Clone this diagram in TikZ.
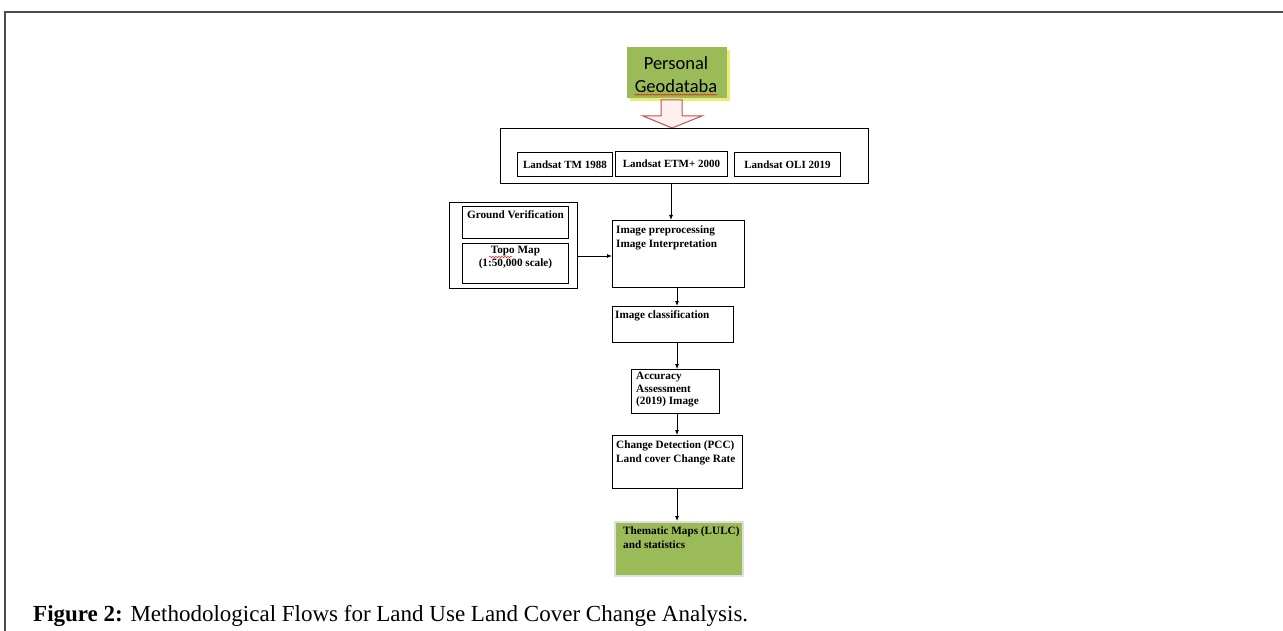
\documentclass[tikz,border=0pt]{standalone}
\usepackage{fontspec}
\setmainfont{Liberation Serif}
\newfontfamily\calibri{Carlito}
\usetikzlibrary{positioning,arrows.meta,shadows,decorations.pathmorphing}

\definecolor{boxgreen}{HTML}{9BBB59}
\definecolor{shadowyellow}{HTML}{EDEB72}
\definecolor{hollowred}{HTML}{C0504D}

\tikzset{
  box/.style={draw, line width=0.9pt, inner sep=0pt, anchor=north west,
    font=\fontsize{11}{13}\selectfont\bfseries},
  boxtext/.style={anchor=north west, inner sep=0pt, align=left,
    font=\fontsize{11.2}{14}\selectfont\bfseries},
  flow/.style={-{Latex[length=5pt,width=4pt]}, line width=0.8pt},
  spell/.style={red, line width=0.5pt, decorate,
    decoration={snake, amplitude=0.6pt, segment length=3pt}},
}

\begin{document}
\begin{tikzpicture}[x=1pt, y=-1pt]
    \useasboundingbox (0,0) rectangle (1283,631);

    % Frame of the figure
    \draw[gray!60!black, line width=1.5pt] (5,631) -- (5,12) -- (1283,12);

    % Source database
    \node[box, draw=none, fill=boxgreen, minimum width=100, minimum height=51,
      drop shadow={shadow xshift=3pt, shadow yshift=-3pt, fill=shadowyellow, opacity=1}]
      (geodb) at (627,47) {};
    \node[font=\calibri\fontsize{18.5}{22}\selectfont, inner sep=0pt] (personal) at (676,63) {Personal};
    \node[font=\calibri\fontsize{18.5}{22}\selectfont, inner sep=0pt] (geodata) at (676,86) {Geodataba};
    \draw[spell] ([yshift=-2pt]geodata.south west) -- ([yshift=-2pt]geodata.south east);

    % Hollow arrow into the imagery
    \draw[hollowred, line width=1pt, fill=red!6]
      (661,100) -- (682,100) -- (682,116) -- (702,116) -- (672,128)
      -- (643,116) -- (661,116) -- cycle;

    % Landsat imagery
    \node[box, minimum width=368, minimum height=55] (landsat) at (500,128) {};
    \node[box, minimum width=95, minimum height=24] (tm) at (517,152) {Landsat TM 1988};
    \node[box, minimum width=112, minimum height=25] (etm) at (615,151) {Landsat ETM+ 2000};
    \node[box, minimum width=106, minimum height=24] (oli) at (734,152) {Landsat OLI 2019};

    % Reference data
    \node[box, minimum width=128, minimum height=86] (refdata) at (449,202) {};
    \node[box, minimum width=106, minimum height=32] (ground) at (462,206) {};
    \node[boxtext, anchor=north] (groundtxt) at ([yshift=-4pt]ground.north) {Ground Verification};
    \node[box, minimum width=106, minimum height=40] (topo) at (462,243) {};
    \node[boxtext, anchor=north, align=center, font=\fontsize{11.2}{12.5}\selectfont\bfseries]
      (topotxt) at ([yshift=-3pt]topo.north) {Topo Map\\(1:50,000 scale)};
    \draw[spell] (489,257) -- (512,257);

    % Processing chain
    \node[box, minimum width=132, minimum height=67] (prep) at (612,220) {};
    \node[boxtext] (preptxt) at ([shift={(4,6)}]prep.north west) {Image preprocessing\\Image Interpretation};

    \node[box, minimum width=121, minimum height=36] (classif) at (612,306) {};
    \node[boxtext] (classiftxt) at ([shift={(3,4)}]classif.north west) {Image classification};

    \node[box, minimum width=88, minimum height=44] (accuracy) at (631,369) {};
    \node[boxtext, font=\fontsize{11.2}{12.5}\selectfont\bfseries] (accuracytxt)
      at ([shift={(5,3)}]accuracy.north west) {Accuracy\\Assessment\\(2019) Image};

    \node[box, minimum width=130, minimum height=53] (change) at (612,435) {};
    \node[boxtext] (changetxt) at ([shift={(4,6)}]change.north west) {Change Detection (PCC)\\Land cover Change Rate};

    \node[box, draw=gray!25, line width=1.5pt, fill=boxgreen, minimum width=128, minimum height=54] (thematic) at (614,521) {};
    \node[boxtext] (thematictxt) at ([shift={(9,6)}]thematic.north west) {Thematic Maps (LULC)\\and statistics};

    % Connectors
    \coordinate (spine) at (677,0);
    \draw[flow] (landsat.south -| 671,0) -- (prep.north -| 671,0);
    \draw[flow] (refdata.east |- 0,256) -- (prep.west |- 0,256);
    \draw[flow] (prep.south -| spine) -- (classif.north -| spine);
    \draw[flow] (classif.south -| spine) -- (accuracy.north -| spine);
    \draw[flow] (accuracy.south -| spine) -- (change.north -| spine);
    \draw[flow] (change.south -| spine) -- (thematic.north -| spine);

    % Caption
    \node[anchor=base west, inner sep=0pt, font=\fontsize{23}{26}\selectfont] (caption) at (33,621)
      {\textbf{Figure 2:} Methodological Flows for Land Use Land Cover Change Analysis.};
\end{tikzpicture}
\end{document}
